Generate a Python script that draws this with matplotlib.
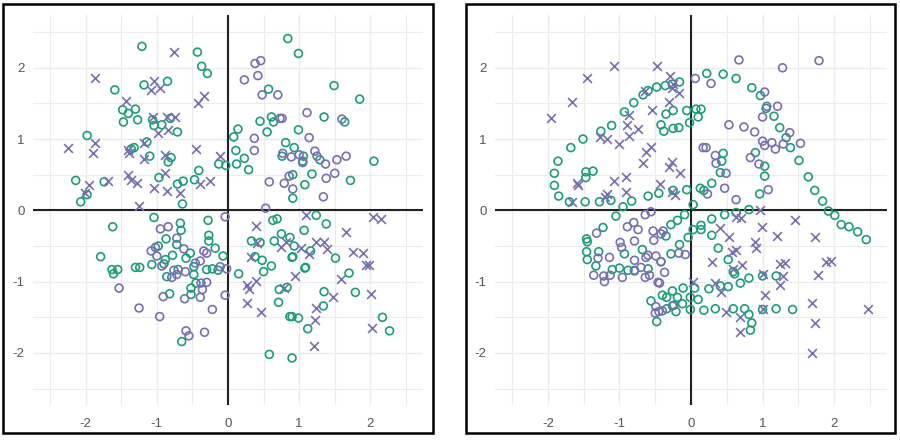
import matplotlib
matplotlib.use("Agg")
import matplotlib.pyplot as plt
from matplotlib.patches import Rectangle
from matplotlib.ticker import FixedLocator
import numpy as np

plt.rcParams["font.family"] = ["Liberation Sans", "DejaVu Sans"]

GREEN = "#1b9e77"
PURPLE = "#7570b3"

tick_values = [-2, -1, 0, 1, 2]
tick_labels = ["-2", "-1", "0", "1", "2"]

# ---------------- Left panel ----------------
left_green = [
    (-1.21, 2.30), (-0.43, 2.22), (-0.37, 2.02), (-0.29, 1.92), (-1.59, 1.69), (-1.18, 1.76),
    (-0.85, 1.81), (-1.48, 1.41), (-1.40, 1.36), (-1.30, 1.42), (-1.47, 1.24), (-1.27, 1.27),
    (-1.06, 1.27), (-1.04, 1.19), (-0.93, 1.20), (-0.81, 1.29), (-0.71, 1.10), (-1.98, 1.05),
    (-1.36, 0.86), (-1.32, 0.88), (-1.14, 0.96), (-1.10, 0.76), (-0.84, 0.68), (-0.80, 0.74),
    (-0.13, 0.65), (-0.03, 0.63), (-2.14, 0.42), (-1.98, 0.22), (-2.07, 0.12), (-1.74, 0.40),
    (-0.97, 0.46), (-0.71, 0.37), (-0.63, 0.41), (-0.64, 0.09), (-0.47, 0.43), (-0.41, 0.56),
    (0.84, 2.41), (0.99, 2.20), (0.57, 1.70), (1.49, 1.75), (1.85, 1.56), (1.35, 1.31),
    (0.61, 1.31), (0.64, 1.24), (0.45, 1.25), (1.64, 1.24), (0.14, 1.14), (0.08, 1.03),
    (0.55, 1.10), (0.99, 1.13), (0.81, 0.95), (0.93, 0.88), (0.11, 0.84), (0.76, 0.76),
    (1.06, 0.76), (1.05, 0.69), (1.29, 0.71), (2.05, 0.69), (0.23, 0.73), (0.12, 0.65),
    (0.29, 0.57), (0.91, 0.50), (0.91, 0.17), (1.08, 0.36), (1.18, 0.51), (1.72, 0.42),
    (-1.04, -0.10), (-1.62, -0.23), (-0.67, -0.18), (-0.66, -0.28), (-0.28, -0.14), (-0.87, -0.40),
    (-0.27, -0.35), (-0.27, -0.43), (-0.72, -0.48), (-1.79, -0.65), (-0.98, -0.50), (-0.78, -0.63),
    (-0.88, -0.69), (-0.59, -0.67), (-0.53, -0.60), (-0.18, -0.53), (-0.07, -0.64), (-1.07, -0.76),
    (-0.90, -0.75), (-1.63, -0.83), (-1.55, -0.83), (-1.61, -0.89), (-1.30, -0.80), (-1.24, -0.80),
    (-0.70, -0.83), (-0.48, -0.79), (-0.30, -0.83), (-0.22, -0.82), (-0.14, -0.84), (-0.86, -0.93),
    (-0.48, -0.90), (-0.45, -1.02), (-0.52, -1.09), (-0.52, -1.18), (-0.82, -1.17), (-0.65, -1.84),
    (1.24, -0.07), (0.63, -0.14), (0.69, -0.12), (1.07, -0.28), (1.38, -0.19), (0.33, -0.43),
    (0.45, -0.45), (0.65, -0.43), (0.75, -0.33), (0.87, -0.38), (0.93, -0.50), (1.16, -0.57),
    (1.51, -0.67), (0.38, -0.65), (0.48, -0.70), (0.61, -0.78), (0.50, -0.86), (0.90, -0.66),
    (0.91, -0.65), (1.08, -0.81), (1.09, -0.80), (0.15, -0.89), (1.70, -0.88), (0.72, -1.11),
    (0.83, -1.08), (1.35, -1.14), (1.79, -1.15), (0.71, -1.29), (1.34, -1.34), (0.87, -1.49),
    (0.90, -1.49), (0.99, -1.51), (2.17, -1.50), (1.12, -1.66), (2.27, -1.69), (0.58, -2.02),
    (0.90, -2.07),
]

left_purple_circle = [
    (0.38, 2.06), (0.46, 2.10), (0.23, 1.83), (0.42, 1.89), (0.48, 1.62), (0.70, 1.62),
    (1.11, 1.37), (0.73, 1.29), (0.76, 1.29), (1.60, 1.28), (1.14, 1.02), (0.37, 1.01),
    (0.37, 0.84), (0.77, 0.80), (0.89, 0.75), (1.00, 0.78), (1.05, 0.67), (1.22, 0.83),
    (1.25, 0.76), (1.37, 0.65), (1.53, 0.71), (1.66, 0.76), (0.58, 0.40), (0.79, 0.38),
    (0.86, 0.48), (0.91, 0.30), (1.38, 0.45), (1.50, 0.52), (1.34, 0.19), (0.53, 0.03),
    (-0.95, -0.26), (-0.84, -0.23), (-0.04, -0.09), (-0.72, -0.39), (-1.08, -0.57), (-1.02, -0.52),
    (-1.00, -0.64), (-0.62, -0.54), (-0.34, -0.57), (-0.30, -0.60), (-0.93, -0.78), (-0.76, -0.84),
    (-0.60, -0.86), (-0.46, -0.74), (-0.39, -0.71), (-0.11, -0.79), (-0.02, -0.82), (-0.79, -0.94),
    (-0.72, -0.90), (-0.38, -1.02), (-0.30, -1.01), (-0.36, -1.11), (-0.39, -1.22), (-1.53, -1.09),
    (-0.91, -1.21), (-0.61, -1.24), (-0.04, -1.19), (-1.25, -1.37), (-0.96, -1.49), (-0.22, -1.39),
    (-0.59, -1.69), (-0.55, -1.76), (-0.33, -1.71),
]

left_purple_cross = [
    (-0.76, 2.22), (-1.87, 1.86), (-1.04, 1.82), (-1.08, 1.69), (-0.96, 1.72), (-1.44, 1.53),
    (-0.34, 1.60), (-0.42, 1.50), (-1.06, 1.31), (-0.86, 1.31), (-0.74, 1.31), (-0.85, 1.13),
    (-0.98, 1.08), (-1.87, 0.94), (-1.89, 0.81), (-2.25, 0.88), (-1.41, 0.85), (-1.39, 0.80),
    (-1.18, 0.94), (-1.18, 0.72), (-0.88, 0.78), (-0.45, 0.86), (-0.11, 0.76), (-1.96, 0.36),
    (-2.01, 0.24), (-1.69, 0.41), (-1.40, 0.50), (-1.36, 0.42), (-1.28, 0.38), (-1.25, 0.06),
    (-1.04, 0.31), (-0.89, 0.52), (-0.86, 0.27), (-0.67, 0.25), (-0.39, 0.37), (-0.25, 0.41),
    (1.10, -0.06), (0.39, -0.22), (2.04, -0.10), (2.15, -0.12), (1.66, -0.30), (0.41, -0.46),
    (0.81, -0.44), (0.75, -0.52), (1.02, -0.53), (1.24, -0.44), (1.35, -0.44), (1.39, -0.54),
    (1.14, -0.61), (1.75, -0.59), (1.90, -0.60), (1.94, -0.76), (1.98, -0.76), (0.32, -0.65),
    (0.94, -0.92), (1.59, -0.96), (0.27, -1.04), (0.39, -0.99), (0.29, -1.11), (0.78, -1.09),
    (1.48, -1.22), (2.01, -1.18), (0.27, -1.30), (1.24, -1.37), (0.46, -1.43), (1.22, -1.54),
    (2.02, -1.65), (1.21, -1.90),
]

# ---------------- Right panel ----------------
right_green = [
    (-1.86, 0.69), (-1.91, 0.52), (-1.91, 0.35), (-1.85, 0.20), (-1.70, 0.12), (-1.48, 0.12),
    (-1.28, 0.12), (-1.12, 0.14), (-0.95, 0.05), (-0.83, 0.13), (-0.60, 0.20), (-0.45, 0.24),
    (-0.25, 0.28), (-0.06, 0.29), (-1.68, 0.88), (-1.51, 1.00), (-1.26, 1.11), (-1.11, 1.19),
    (-0.93, 1.38), (-0.80, 1.51), (-0.67, 1.62), (-0.60, 1.68), (-0.48, 1.73), (-0.36, 1.75),
    (-0.26, 1.77), (-0.16, 1.80), (-1.47, 0.54), (-1.37, 0.55), (-1.47, 0.46), (-0.35, 1.35),
    (-0.25, 1.40), (-0.06, 1.40), (-0.42, 1.20), (-0.38, 1.11), (-0.25, 1.15), (-0.17, 1.16),
    (-0.02, 1.23),
    (0.22, 1.92), (0.45, 1.91), (0.63, 1.85), (0.85, 1.72), (0.97, 1.61), (1.05, 1.43),
    (1.16, 1.32), (0.07, 1.42), (0.14, 1.42), (0.10, 1.31), (1.24, 1.16), (1.33, 1.02),
    (1.39, 0.88), (1.51, 0.70), (1.64, 0.47), (1.73, 0.28), (1.84, 0.13), (1.92, -0.01),
    (0.45, 0.80), (0.43, 0.69), (0.90, 0.81), (1.03, 0.62), (1.03, 0.48), (0.41, 0.53),
    (0.29, 0.38), (0.13, 0.31), (0.18, 0.28), (0.96, 0.23), (0.03, 0.08), (0.81, 0.01),
    (-1.05, -0.08), (-0.28, -0.20), (-0.19, -0.14), (-0.09, -0.06), (-1.23, -0.24), (-0.35, -0.36),
    (-0.04, -0.38), (-0.16, -0.48), (-1.46, -0.40), (-1.45, -0.44), (-0.68, -0.55), (-0.93, -0.61),
    (-1.46, -0.58), (-1.29, -0.58), (-1.45, -0.69), (-1.33, -0.78), (-0.42, -0.72), (-0.28, -0.61),
    (-1.10, -0.83), (-1.00, -0.81), (-0.88, -0.84), (-0.79, -0.84), (-0.60, -0.82), (-0.56, -1.27),
    (-0.40, -1.19), (-0.34, -1.22), (-0.26, -1.13), (-0.19, -1.22), (-0.11, -1.09), (-0.01, -1.22),
    (-0.34, -1.38), (-0.24, -1.33), (-0.21, -1.42), (-0.12, -1.31), (-0.01, -1.39), (-0.48, -1.56),
    (0.29, -0.12), (0.47, -0.06), (0.63, -0.03), (0.14, -0.21), (0.14, -0.27), (0.03, -0.27),
    (0.29, -0.35), (0.38, -0.53), (2.01, -0.07), (2.10, -0.20), (2.21, -0.23), (2.33, -0.30),
    (2.45, -0.41), (0.52, -0.69), (0.59, -0.86), (0.61, -0.89), (1.19, -0.92), (1.00, -0.92),
    (0.81, -0.95), (0.69, -1.02), (0.25, -1.10), (0.41, -1.06), (0.52, -1.07), (0.05, -1.09),
    (0.10, -1.25), (0.18, -1.40), (0.34, -1.38), (0.59, -1.38), (0.75, -1.38), (0.81, -1.46),
    (0.85, -1.58), (0.83, -1.68), (1.00, -1.39), (1.19, -1.38), (1.42, -1.39),
]

right_purple_circle = [
    (0.67, 2.11), (1.79, 2.10), (1.28, 2.00), (0.06, 1.85), (0.28, 1.78), (1.03, 1.66),
    (1.06, 1.46), (1.21, 1.46), (1.00, 1.31), (0.53, 1.20), (0.74, 1.17), (0.89, 1.10),
    (1.38, 1.09), (1.53, 0.94), (1.29, 0.93), (1.13, 0.95), (1.18, 0.86), (1.00, 0.97),
    (1.03, 0.91), (0.17, 0.88), (0.21, 0.88), (0.34, 0.77), (0.35, 0.66), (0.83, 0.74),
    (0.95, 0.65), (0.49, 0.52), (0.47, 0.31), (0.23, 0.23), (1.08, 0.29), (0.63, 0.15),
    (-0.64, -0.06), (-0.56, -0.02), (-1.32, -0.32), (-0.89, -0.23), (-0.80, -0.17), (-0.74, -0.27),
    (-0.53, -0.29), (-0.42, -0.33), (-0.39, -0.29), (-0.52, -0.42), (-0.99, -0.45), (-0.97, -0.52),
    (-0.79, -0.43), (-1.30, -0.67), (-1.14, -0.66), (-0.79, -0.70), (-0.63, -0.66), (-0.60, -0.63),
    (-0.49, -0.64), (-0.42, -0.72), (-0.17, -0.60), (-0.08, -0.62), (-1.36, -0.91), (-1.22, -0.92),
    (-1.21, -1.00), (-1.13, -0.91), (-0.96, -0.94), (-0.79, -0.85), (-0.70, -0.80), (-0.64, -0.94),
    (-0.58, -0.91), (-0.37, -0.87), (-0.44, -1.02), (-0.46, -1.01), (-0.49, -1.35), (-0.45, -1.42),
    (-0.50, -1.44), (-0.40, -1.41), (-0.26, -1.34),
]

right_purple_cross = [
    (-1.96, 1.30), (-1.66, 1.52), (-1.45, 1.86), (-1.08, 2.03), (-0.47, 2.02), (-0.30, 1.88),
    (-0.25, 1.77), (-0.26, 1.71), (-0.17, 1.65), (-0.31, 1.52), (-0.64, 1.68), (-0.54, 1.41),
    (-0.87, 1.34), (-0.89, 1.20), (-0.74, 1.14), (-0.87, 1.04), (-1.27, 1.03), (-1.18, 1.00),
    (-1.00, 0.93), (-0.56, 0.89), (-0.63, 0.82), (-0.67, 0.67), (-0.26, 0.68), (-0.31, 0.61),
    (-0.16, 0.52), (-1.60, 0.38), (-1.58, 0.36), (-1.08, 0.41), (-0.91, 0.47), (-0.91, 0.26),
    (-1.17, 0.23), (-1.20, 0.19), (-1.67, 0.12), (-0.43, 0.37), (-0.26, 0.26), (-0.23, 0.21),
    (0.63, -0.09), (0.70, -0.11), (0.97, 0.00), (0.99, -0.23), (1.46, -0.13), (0.41, -0.25),
    (0.53, -0.38), (0.89, -0.45), (0.91, -0.53), (1.20, -0.36), (1.73, -0.37), (0.57, -0.59),
    (0.63, -0.56), (0.30, -0.73), (0.59, -0.82), (0.71, -0.77), (1.24, -0.75), (1.31, -0.74),
    (1.89, -0.73), (1.96, -0.71), (1.77, -0.91), (1.29, -0.92), (1.01, -0.89), (1.25, -1.05),
    (0.03, -1.01), (0.34, -1.02), (0.42, -1.15), (1.04, -1.19), (1.69, -1.30), (0.49, -1.43),
    (0.68, -1.50), (0.68, -1.71), (1.00, -1.38), (1.73, -1.58), (1.69, -2.00), (2.48, -1.38),
]

W, H = 900, 440
fig = plt.figure(figsize=(W / 100, H / 100), dpi=100)
fig.patch.set_facecolor("white")


def add_ax(x0, x1, y0, y1):
    return fig.add_axes([x0 / W, 1 - y1 / H, (x1 - x0) / W, (y1 - y0) / H])


def style(ax):
    ax.set_xlim(-2.74, 2.74)
    ax.set_ylim(-2.73, 2.74)
    for s in ax.spines.values():
        s.set_visible(False)
    ax.xaxis.set_major_locator(FixedLocator(tick_values))
    ax.yaxis.set_major_locator(FixedLocator(tick_values))
    ax.set_xticklabels(tick_labels)
    ax.set_yticklabels(tick_labels)
    ax.xaxis.set_minor_locator(FixedLocator([-2.5, -1.5, -0.5, 0.5, 1.5, 2.5]))
    ax.yaxis.set_minor_locator(FixedLocator([-2.5, -1.5, -0.5, 0.5, 1.5, 2.5]))
    ax.tick_params(which="both", length=0)
    ax.tick_params(axis="x", pad=9, labelsize=9.5, labelcolor="#555555")
    ax.tick_params(axis="y", pad=6, labelsize=9.5, labelcolor="#555555")
    ax.grid(which="major", color="#ebebeb", lw=1.0, zorder=0)
    ax.grid(which="minor", color="#ebebeb", lw=0.8, zorder=0)
    ax.set_axisbelow(True)
    ax.axhline(0, color="#222222", lw=1.5, zorder=1.5)
    ax.axvline(0, color="#222222", lw=1.5, zorder=1.5)


def draw(ax, green, pcirc, pcross):
    g = np.array(green)
    pc = np.array(pcirc)
    px = np.array(pcross)
    ax.scatter(g[:, 0], g[:, 1], s=32, facecolors="none", edgecolors=GREEN, linewidths=1.2, zorder=3)
    ax.scatter(pc[:, 0], pc[:, 1], s=32, facecolors="none", edgecolors=PURPLE, linewidths=1.2, zorder=3)
    ax.scatter(px[:, 0], px[:, 1], s=40, marker="x", color=PURPLE, linewidths=1.2, zorder=3)


axL = add_ax(33, 423, 15, 405)
axR = add_ax(495, 887, 15, 405)
for ax in (axL, axR):
    style(ax)
draw(axL, left_green, left_purple_circle, left_purple_cross)
draw(axR, right_green, right_purple_circle, right_purple_cross)

# Panel frames
for (x0, x1) in ((3, 433), (466, 895)):
    fig.patches.append(Rectangle((x0 / W, 1 - 433 / H), (x1 - x0) / W, (433 - 4) / H,
                                 transform=fig.transFigure, fill=False, lw=1.8,
                                 edgecolor="black", zorder=10))

fig.savefig("out.png", dpi=100)
